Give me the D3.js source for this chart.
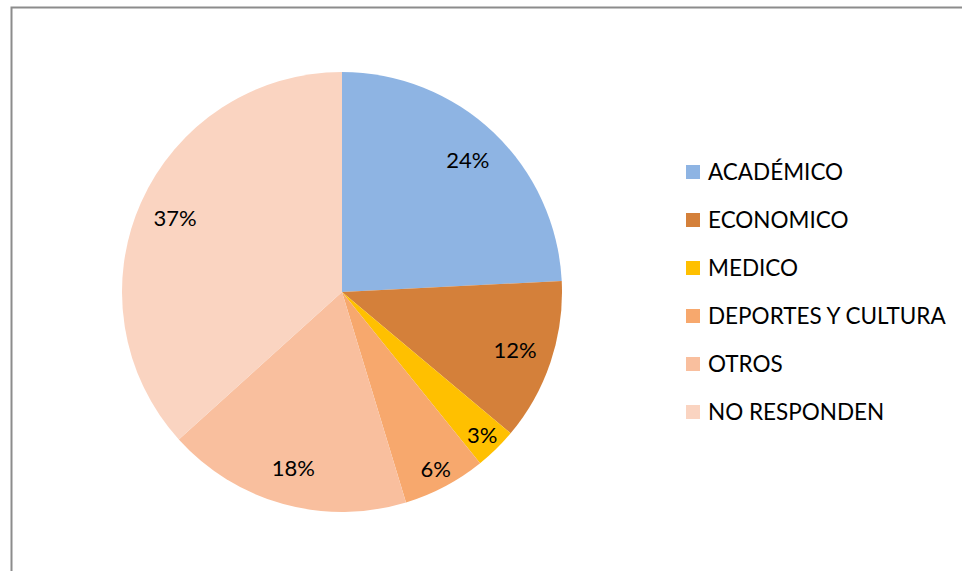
<!DOCTYPE html>
<html>
  <head>
    <meta charset="utf-8" />
    <script src="https://d3js.org/d3.v7.min.js"></script>
    <style>
      body { margin: 0; background: #fff; }
      .lbl, .leg { font-family: Lato, "Open Sans", sans-serif; fill: #000; }
    </style>
  </head>
  <body>
    <svg id="chart" width="962" height="571"></svg>
  <script>

  var categories = ["ACADÉMICO", "ECONOMICO", "MEDICO", "DEPORTES Y CULTURA", "OTROS", "NO RESPONDEN"];
  var values = [24.2, 11.9, 3.1, 6.1, 18.0, 36.7];
  var colors = ["#8EB4E3", "#D4803A", "#FFC000", "#F7A86D", "#F9BF9E", "#FAD4C1"];

  var svg = d3.select("#chart");

  // chart frame (cut off at right and bottom)
  svg.append("rect")
    .attr("x", 11.5).attr("y", 7.5)
    .attr("width", 980).attr("height", 600)
    .attr("fill", "none")
    .attr("stroke", "#8c8c8c")
    .attr("stroke-width", 2);

  var cx = 342, cy = 292, radius = 220;

  var pie = d3.pie().sort(null).value(function(d) { return d; });
  var arcs = pie(values);
  var arc = d3.arc().innerRadius(0).outerRadius(radius);
  var color = d3.scaleOrdinal().domain(categories).range(colors);
  var total = d3.sum(values);

  // small slices get their label pushed nearer the rim
  function labelPos(d) {
    var share = d.value / total;
    var r = radius * (share < 0.1 ? 0.91 : 0.83);
    return d3.arc().innerRadius(r).outerRadius(r).centroid(d);
  }

  var g = svg.append("g").attr("transform", "translate(" + cx + "," + cy + ")");

  g.selectAll(".slice")
    .data(arcs)
    .enter().append("path")
    .attr("class", "slice")
    .attr("d", arc)
    .attr("fill", function(d, i) { return color(categories[i]); });

  g.selectAll(".lbl")
    .data(arcs)
    .enter().append("text")
    .attr("class", "lbl")
    .attr("transform", function(d) { return "translate(" + labelPos(d) + ")"; })
    .attr("text-anchor", "middle")
    .attr("dy", "0.36em")
    .attr("font-size", 22)
    .text(function(d) { return Math.round(d.value / total * 100) + "%"; });

  // legend
  var legendY = d3.scalePoint().domain(categories).range([172, 412]);

  var leg = svg.selectAll(".legrow")
    .data(categories)
    .enter().append("g")
    .attr("class", "legrow")
    .attr("transform", function(d) { return "translate(686," + legendY(d) + ")"; });

  leg.append("rect")
    .attr("x", 0).attr("y", -7)
    .attr("width", 14).attr("height", 14)
    .attr("fill", function(d) { return color(d); });

  leg.append("text")
    .attr("class", "leg")
    .attr("x", 22)
    .attr("dy", "0.36em")
    .attr("font-size", 22.5)
    .text(function(d) { return d; });

  </script>
  </body>
</html>
